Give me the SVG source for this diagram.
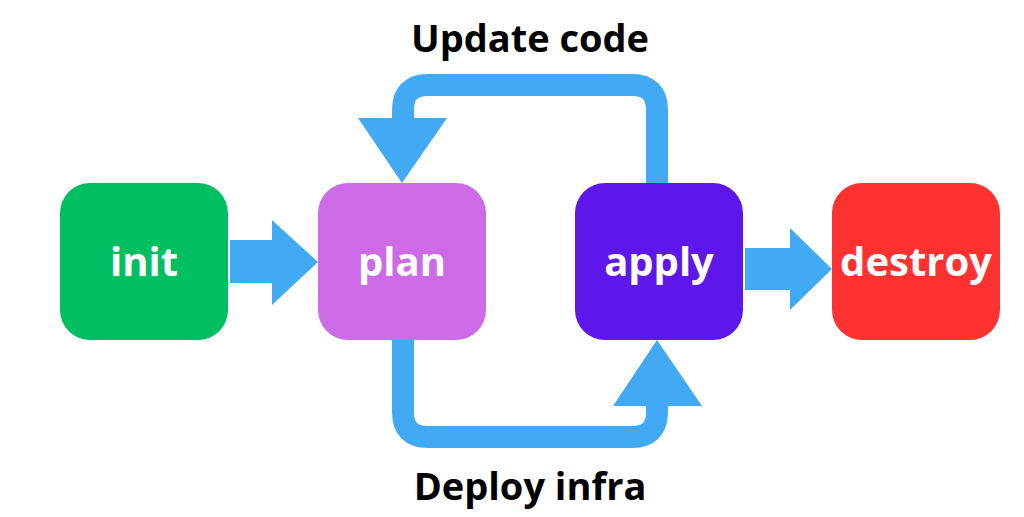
<svg xmlns="http://www.w3.org/2000/svg" width="1024" height="517" viewBox="0 0 1024 517">
<style>
.lbl{font-family:"Open Sans","Liberation Sans",sans-serif;font-weight:bold;font-size:40px;fill:#fff;text-anchor:middle}
.cap{font-family:"Open Sans","Liberation Sans",sans-serif;font-weight:bold;font-size:38px;fill:#000;text-anchor:middle}
.loop{fill:none;stroke:#42A9F4;stroke-width:22;stroke-linejoin:round}
.ar{fill:#42A9F4}
</style>
<rect width="1024" height="517" fill="#fff"/>
<g id="connectors">
<path class="ar" d="M230,240 H272 V220 L318,262 L272,305 V283 H230 Z"/>
<path class="ar" d="M745,248 H790 V228 L832,269 L790,310 V290 H745 Z"/>
<path class="loop" d="M657,183 V110 Q657,85 632,85 H428 Q403,85 403,110 V125"/>
<path class="ar" d="M358,118 H447 L402,183 Z"/>
<path class="loop" d="M403,340 V412 Q403,437 428,437 H632 Q657,437 657,412 V400"/>
<path class="ar" d="M613,406 H702 L657,340 Z"/>
</g>
<g id="init"><rect x="60" y="183" width="168" height="157" rx="30" fill="#00BF63"/><text class="lbl" x="144" y="276">init</text></g>
<g id="plan"><rect x="318" y="183" width="168" height="157" rx="30" fill="#CB6CE6"/><text class="lbl" x="402" y="276">plan</text></g>
<g id="apply"><rect x="575" y="183" width="168" height="157" rx="30" fill="#5E17EB"/><text class="lbl" x="659" y="276">apply</text></g>
<g id="destroy"><rect x="832" y="183" width="168" height="157" rx="30" fill="#FF3131"/><text class="lbl" x="916" y="276">destroy</text></g>
<text class="cap" x="530" y="52">Update code</text>
<text class="cap" x="530" y="500">Deploy infra</text>
</svg>
